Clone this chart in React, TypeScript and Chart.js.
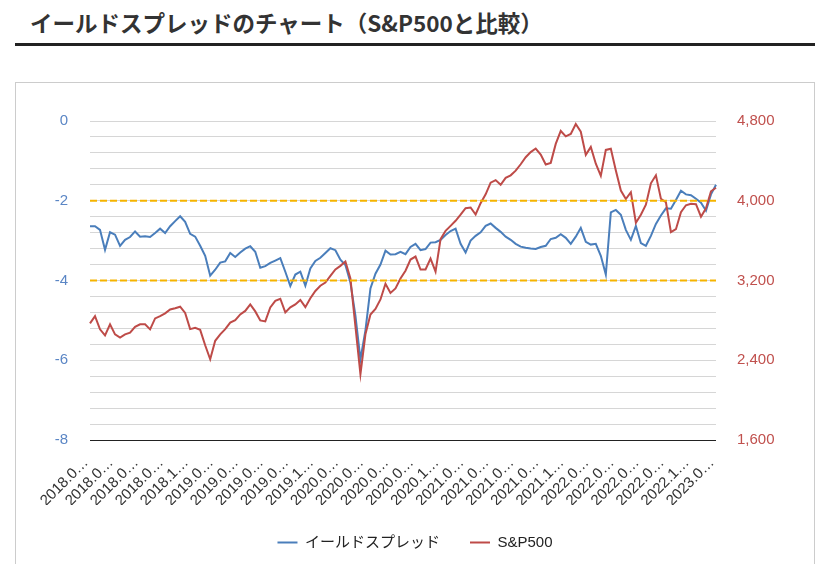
import React, { useEffect, useRef } from 'react';
import { Chart, registerables } from 'chart.js';

Chart.register(...registerables);

// 15-day sampling of the daily series
const categories = [
  '2018.01.02', '2018.01.17', '2018.02.01', '2018.02.16', '2018.03.03', '2018.03.18', '2018.04.02', '2018.04.17',
  '2018.05.02', '2018.05.17', '2018.06.01', '2018.06.16', '2018.07.01', '2018.07.16', '2018.07.31', '2018.08.15',
  '2018.08.30', '2018.09.14', '2018.09.29', '2018.10.14', '2018.10.29', '2018.11.13', '2018.11.28', '2018.12.13',
  '2018.12.28',
  '2019.01.12', '2019.01.27', '2019.02.11', '2019.02.26', '2019.03.13', '2019.03.28', '2019.04.12', '2019.04.27',
  '2019.05.12', '2019.05.27', '2019.06.11', '2019.06.26', '2019.07.11', '2019.07.26', '2019.08.10', '2019.08.25',
  '2019.09.09', '2019.09.24', '2019.10.09', '2019.10.24', '2019.11.08', '2019.11.23', '2019.12.08', '2019.12.23',
  '2020.01.07', '2020.01.22', '2020.02.06', '2020.02.21', '2020.03.07', '2020.03.22', '2020.04.06', '2020.04.21',
  '2020.05.06', '2020.05.21', '2020.06.05', '2020.06.20', '2020.07.05', '2020.07.20', '2020.08.04', '2020.08.19',
  '2020.09.03', '2020.09.18', '2020.10.03', '2020.10.18', '2020.11.02', '2020.11.17', '2020.12.02', '2020.12.17',
  '2021.01.01', '2021.01.16', '2021.01.31', '2021.02.15', '2021.03.02', '2021.03.17', '2021.04.01', '2021.04.16',
  '2021.05.01', '2021.05.16', '2021.05.31', '2021.06.15', '2021.06.30', '2021.07.15', '2021.07.30', '2021.08.14',
  '2021.08.29', '2021.09.13', '2021.09.28', '2021.10.13', '2021.10.28', '2021.11.12', '2021.11.27', '2021.12.12',
  '2021.12.27',
  '2022.01.11', '2022.01.26', '2022.02.10', '2022.02.25', '2022.03.12', '2022.03.27', '2022.04.11', '2022.04.26',
  '2022.05.11', '2022.05.26', '2022.06.10', '2022.06.25', '2022.07.10', '2022.07.25', '2022.08.09', '2022.08.24',
  '2022.09.08', '2022.09.23', '2022.10.08', '2022.10.23', '2022.11.07', '2022.11.22', '2022.12.07', '2022.12.22',
  '2023.01.06', '2023.01.21', '2023.02.05', '2023.02.20',
];

const spreadValues = [
  -2.64, -2.64, -2.73, -3.23, -2.79, -2.85, -3.13, -2.98, -2.91, -2.77,
  -2.90, -2.89, -2.91, -2.81, -2.70, -2.81, -2.64, -2.51, -2.39, -2.53,
  -2.83, -2.90, -3.13, -3.38, -3.88, -3.73, -3.55, -3.52, -3.31, -3.41,
  -3.30, -3.20, -3.14, -3.28, -3.68, -3.64, -3.56, -3.50, -3.44, -3.78,
  -4.14, -3.85, -3.78, -4.13, -3.70, -3.51, -3.43, -3.31, -3.19, -3.24,
  -3.48, -3.61, -4.05, -4.88, -5.98, -5.25, -4.20, -3.83, -3.60, -3.25,
  -3.35, -3.34, -3.28, -3.34, -3.16, -3.08, -3.24, -3.21, -3.05, -3.04,
  -2.98, -2.86, -2.76, -2.70, -3.08, -3.30, -3.00, -2.88, -2.79, -2.63,
  -2.57, -2.68, -2.78, -2.90, -2.98, -3.08, -3.15, -3.18, -3.20, -3.21,
  -3.16, -3.13, -2.96, -2.93, -2.84, -2.93, -3.08, -2.90, -2.68, -3.03,
  -3.10, -3.08, -3.38, -3.85, -2.29, -2.23, -2.35, -2.73, -2.98, -2.63,
  -3.06, -3.13, -2.88, -2.58, -2.37, -2.19, -2.20, -1.98, -1.75, -1.84,
  -1.86, -1.95, -2.05, -2.25, -1.84, -1.60,
];

const sp500Values = [
  2770, 2843, 2710, 2650, 2760, 2660, 2627, 2660, 2677, 2735,
  2760, 2760, 2710, 2820, 2843, 2870, 2910, 2922, 2937, 2875,
  2712, 2725, 2705, 2550, 2410, 2595, 2660, 2712, 2778, 2802,
  2860, 2895, 2960, 2890, 2800, 2790, 2930, 2996, 3017, 2880,
  2930, 2960, 3005, 2933, 3022, 3095, 3147, 3180, 3246, 3311,
  3347, 3391, 3220, 2740, 2260, 2660, 2858, 2915, 3010, 3167,
  3075, 3120, 3220, 3298, 3410, 3440, 3310, 3310, 3420, 3290,
  3615, 3698, 3748, 3799, 3860, 3925, 3932, 3862, 3976, 4064,
  4182, 4207, 4160, 4230, 4255, 4302, 4366, 4437, 4488, 4524,
  4463, 4363, 4380, 4570, 4700, 4646, 4670, 4770, 4693, 4460,
  4540, 4372, 4250, 4510, 4522, 4303, 4102, 4017, 4085, 3780,
  3860, 3960, 4175, 4255, 4020, 3985, 3685, 3715, 3885, 3955,
  3970, 3965, 3840, 3925, 4095, 4130,
];

const leftTickLabels = [0, -2, -4, -6, -8];
const rightTickLabels = [1600, 2400, 3200, 4000, 4800];
const thresholdLevels = [-2, -4];

const FONT = "Arial, 'Liberation Sans', 'Noto Sans CJK JP', sans-serif";

const hasTick = (list: number[], v: number) => list.some((t) => Math.abs(t - v) < 1e-6);

// dashed reference lines at -2 and -4 on the spread axis
const thresholdPlugin = {
  id: 'thresholds',
  afterDatasetsDraw(chart: any) {
    const { ctx, chartArea, scales } = chart;
    ctx.save();
    ctx.strokeStyle = '#f5b400';
    ctx.lineWidth = 2;
    ctx.setLineDash([7, 3]);
    thresholdLevels.forEach((v) => {
      const py = scales.y.getPixelForValue(v);
      ctx.beginPath();
      ctx.moveTo(chartArea.left, py);
      ctx.lineTo(chartArea.right, py);
      ctx.stroke();
    });
    ctx.restore();
  },
};

const YieldSpreadChart: React.FC = () => {
  const chartRef = useRef<HTMLCanvasElement>(null);
  const chartInstance = useRef<Chart | null>(null);

  useEffect(() => {
    if (chartInstance.current) {
      chartInstance.current.destroy();
    }
    if (chartRef.current) {
      const ctx = chartRef.current.getContext('2d');
      if (ctx) {
        chartInstance.current = new Chart(ctx, {
          type: 'line',
          data: {
            labels: categories,
            datasets: [
              {
                label: 'イールドスプレッド',
                data: spreadValues,
                yAxisID: 'y',
                borderColor: '#4a7ebb',
                backgroundColor: '#4a7ebb',
                borderWidth: 2,
                pointRadius: 0,
                tension: 0,
                order: 1,
              },
              {
                label: 'S&P500',
                data: sp500Values,
                yAxisID: 'y1',
                borderColor: '#be4b48',
                backgroundColor: '#be4b48',
                borderWidth: 2,
                pointRadius: 0,
                tension: 0,
                order: 0,
              },
            ],
          },
          options: {
            responsive: true,
            maintainAspectRatio: false,
            animation: false,
            layout: { padding: { top: 38 } },
            font: { family: FONT },
            plugins: {
              tooltip: { enabled: false },
              legend: {
                position: 'bottom',
                labels: {
                  usePointStyle: true,
                  pointStyle: 'line',
                  pointStyleWidth: 20,
                  padding: 30,
                  color: '#222',
                  font: { family: FONT, size: 15 },
                  sort: (a: any, b: any) => a.datasetIndex - b.datasetIndex,
                },
              },
            },
            scales: {
              x: {
                grid: { display: false, drawTicks: false },
                border: { display: false },
                ticks: {
                  autoSkip: false,
                  maxRotation: 45,
                  minRotation: 45,
                  padding: 14,
                  labelOffset: -4,
                  color: '#333',
                  font: { family: FONT, size: 15 },
                  callback: (_v: any, index: number) =>
                    index % 5 === 0 ? categories[index].slice(0, 6) + '…' : null,
                },
                afterFit: (s: any) => {
                  s.height = 65;
                },
              },
              y: {
                type: 'linear',
                position: 'left',
                min: -8,
                max: 0,
                ticks: {
                  stepSize: 0.4,
                  autoSkip: false,
                  padding: 22,
                  color: '#5b86c5',
                  font: { family: FONT, size: 15 },
                  // empty strings keep the minor grid lines
                  callback: (v: any) => (hasTick(leftTickLabels, Number(v)) ? String(Math.round(Number(v))) : ''),
                },
                grid: {
                  drawTicks: false,
                  color: (c: any) => (Math.abs(c.tick.value + 8) < 1e-6 ? '#222' : '#d6d6d6'),
                  lineWidth: 1,
                },
                border: { display: false },
                afterFit: (s: any) => {
                  s.width = 74;
                },
              },
              y1: {
                type: 'linear',
                position: 'right',
                min: 1600,
                max: 4800,
                ticks: {
                  stepSize: 160,
                  autoSkip: false,
                  padding: 21,
                  color: '#c0504d',
                  font: { family: FONT, size: 15 },
                  callback: (v: any) =>
                    hasTick(rightTickLabels, Number(v)) ? Number(v).toLocaleString('en-US') : '',
                },
                grid: { display: false, drawTicks: false },
                border: { display: false },
                afterFit: (s: any) => {
                  s.width = 98;
                },
              },
            },
          } as any,
          plugins: [thresholdPlugin],
        });
      }
    }
    return () => {
      if (chartInstance.current) {
        chartInstance.current.destroy();
        chartInstance.current = null;
      }
    };
  }, []);

  return (
    <div style={{ position: 'relative', width: 798, height: 477 }}>
      <canvas ref={chartRef} />
    </div>
  );
};

export default function App() {
  return (
    <div style={{ position: 'absolute', left: 0, top: 0, width: 831, height: 564, overflow: 'hidden', background: '#fff' }}>
      <div
        style={{
          position: 'absolute',
          left: 30,
          top: 6,
          fontFamily: "'Noto Sans CJK JP', sans-serif",
          fontWeight: 700,
          fontSize: 22.5,
          lineHeight: '32px',
          color: '#333',
          whiteSpace: 'nowrap',
        }}
      >
        {'イールドスプレッドのチャート（S&P500と比較）'}
      </div>
      <div style={{ position: 'absolute', left: 15, top: 43, width: 800, height: 3, background: '#222' }} />
      <div style={{ position: 'absolute', left: 15, top: 82, width: 798, height: 520, border: '1px solid #ccc' }}>
        <YieldSpreadChart />
      </div>
    </div>
  );
}
